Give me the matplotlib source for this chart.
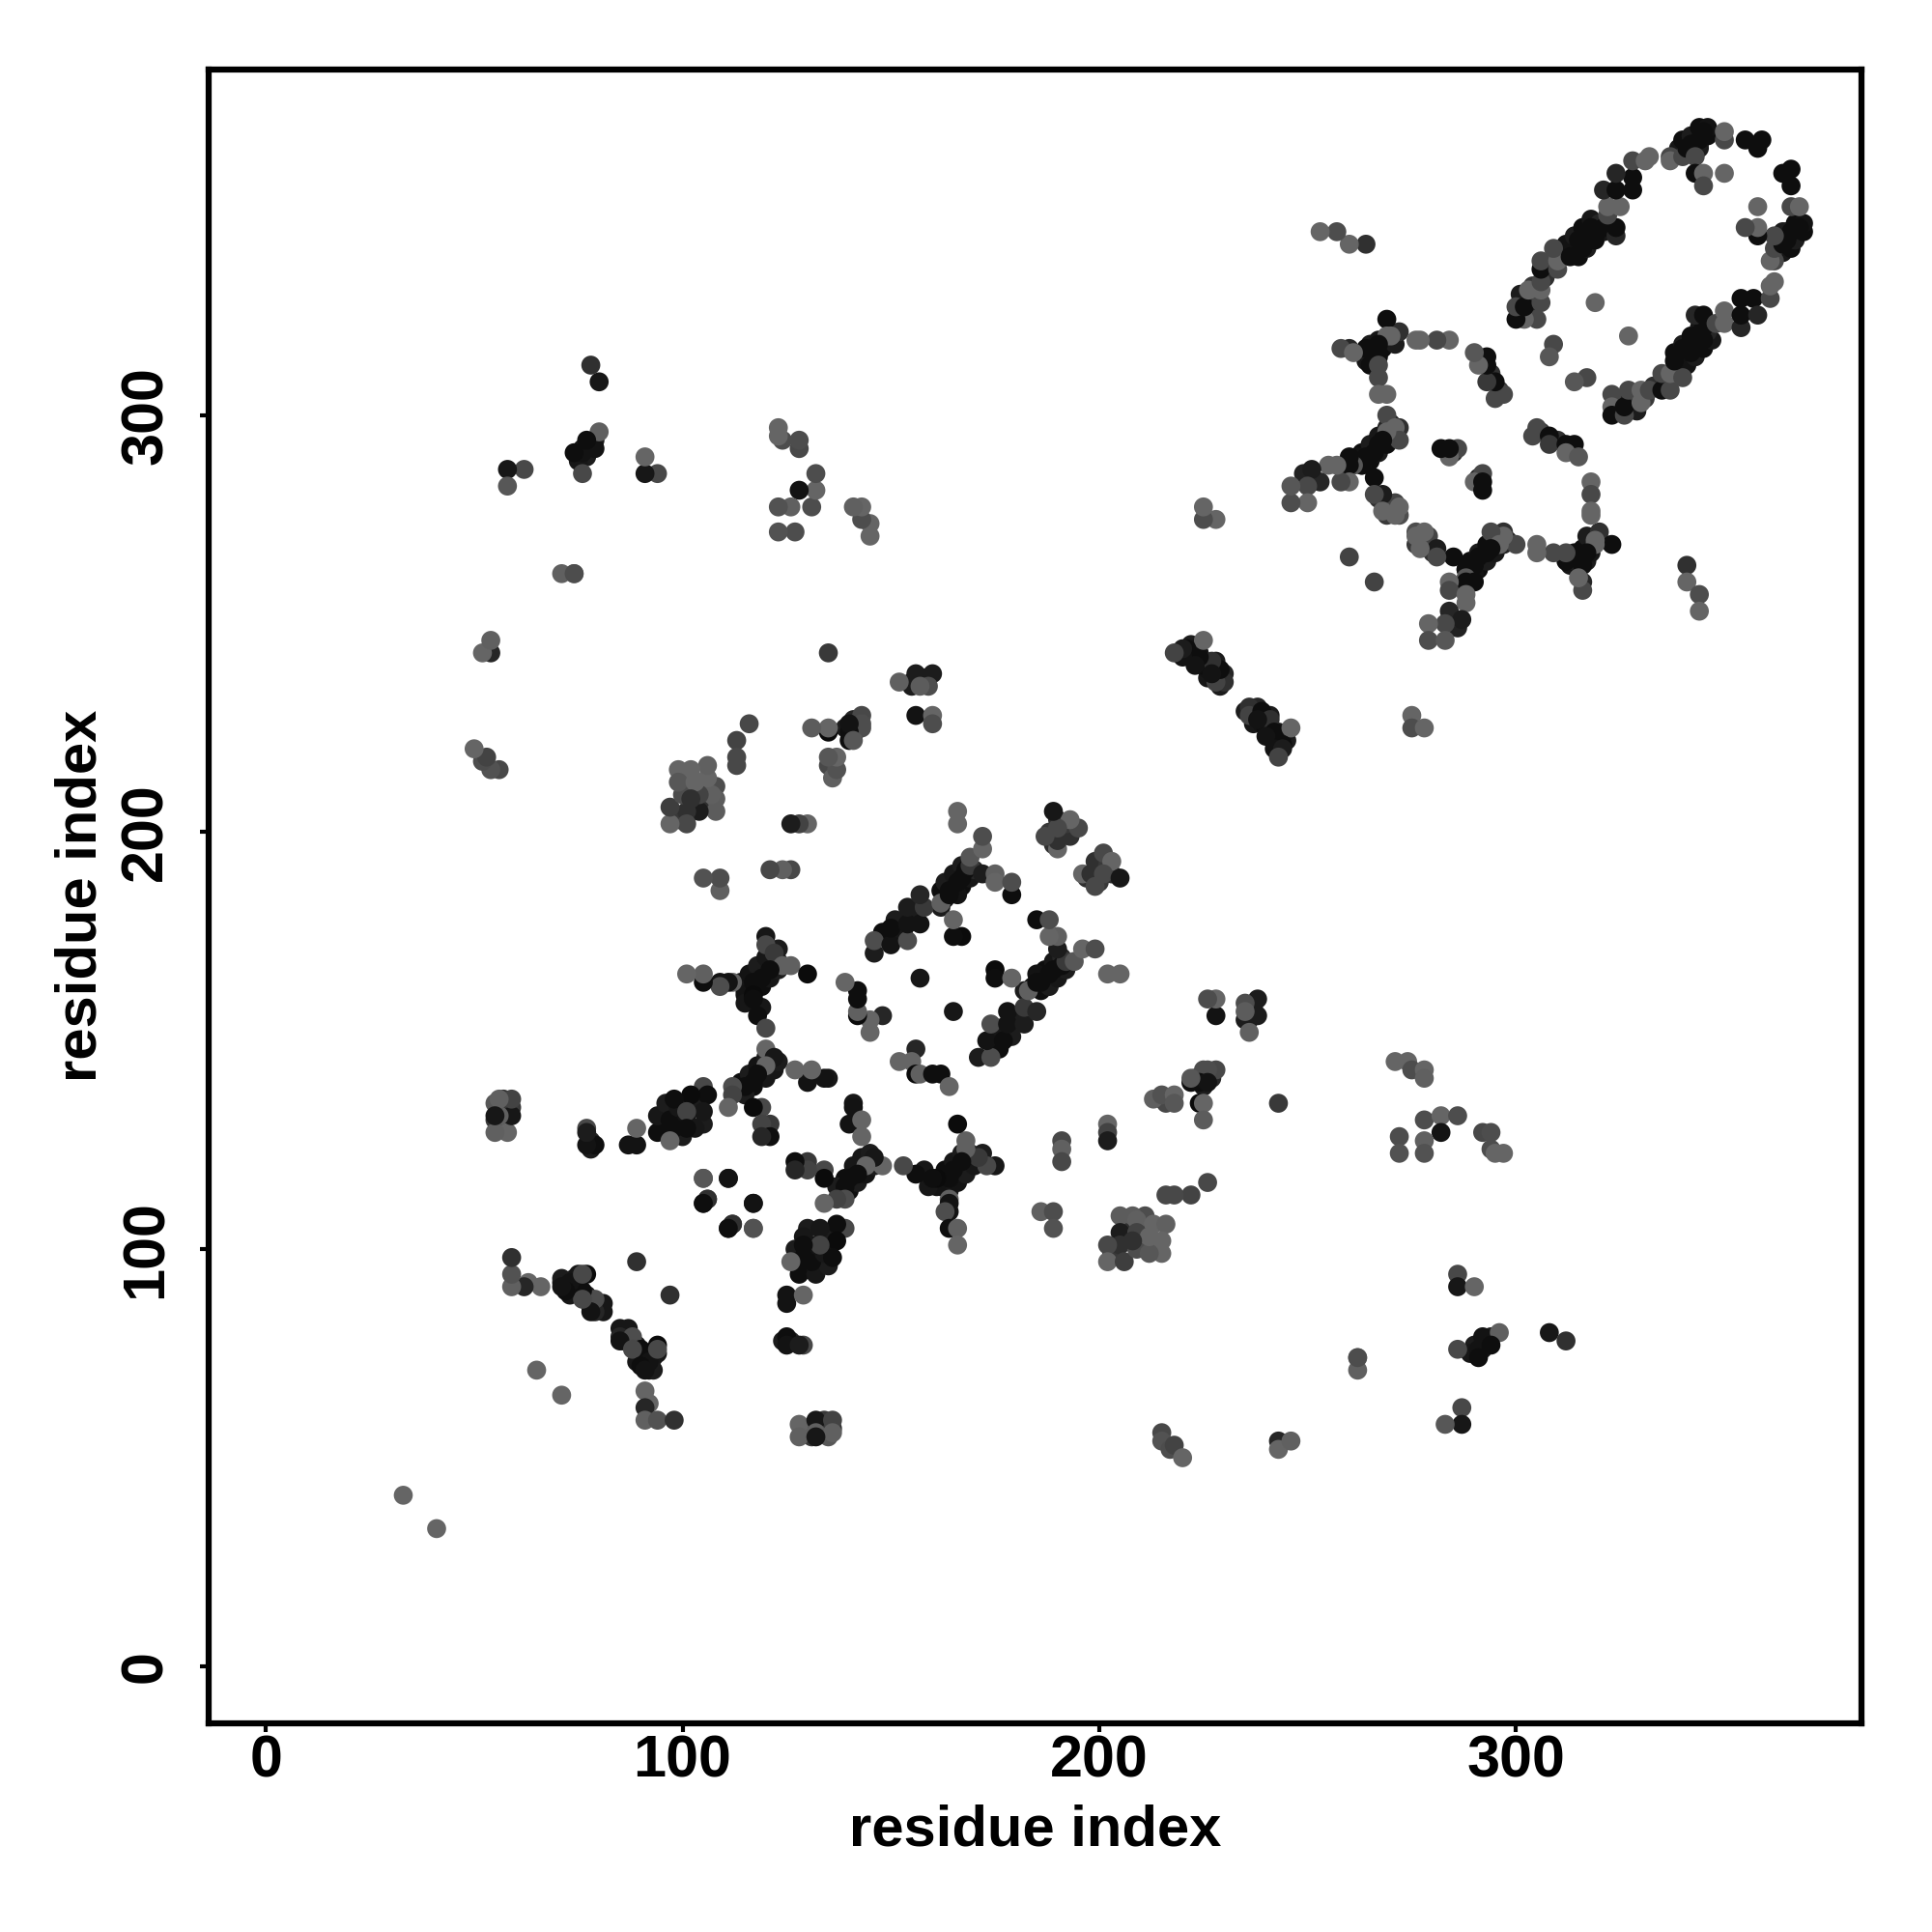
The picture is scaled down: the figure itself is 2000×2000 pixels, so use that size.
"""Residue contact map, drawn from the lower triangle and mirrored."""
import matplotlib
matplotlib.use('Agg')
import matplotlib.pyplot as plt
from matplotlib.colors import LinearSegmentedColormap
import numpy as np

# residue i > residue j, one list per region; conf is a 0-1 confidence
loop_i = [323, 323, 323, 326, 326, 327, 330, 330, 332, 335, 337, 335, 337, 340, 338, 340, 342, 343, 345, 343, 345,
          343, 345, 348, 350, 350, 354, 354, 354, 357, 358, 361, 361, 362, 362, 361, 362, 364, 365, 366, 368, 362,
          358, 358, 355, 358, 366, 368, 366, 364, 366, 327, 317, 314]
loop_j = [305, 302, 300, 300, 302, 306, 303, 306, 306, 306, 306, 310, 310, 309, 313, 316, 315, 317, 318, 319, 321,
          324, 324, 322, 322, 325, 321, 324, 328, 328, 324, 328, 331, 332, 337, 337, 340, 341, 342, 344, 345, 343,
          343, 345, 345, 350, 350, 350, 355, 358, 359, 319, 309, 308]
loop_c = [.35, .05, .95, .35, .95, .35, .05, .05, .35, .95, .35, .35, .05, .35, .95, .95, .95, .95, .95, .95, .95,
          .7, .95, .35, .05, .05, .7, .95, .95, .95, .7, .35, .05, .05, .35, .05, .35, .95, .95, .95, .95, .35,
          .95, .05, .35, .05, .35, .05, .95, .95, .95, .05, .35, .2]

star_i = [323, 319, 319, 317, 315, 314, 312, 312, 309, 305, 305, 316, 316, 316, 315, 318, 318, 318, 318,
          305, 304, 308, 308, 312, 314, 312, 315, 292, 290, 292, 292, 300, 297, 295, 294, 296, 294, 293, 291, 290,
          288, 288, 290, 288, 284, 284, 288, 288, 284, 287, 283, 279, 279, 283, 285, 281, 281, 278, 276, 277, 266,
          341, 341, 344, 344, 275, 275, 278]
star_j = [269, 270, 269, 267, 266, 267, 265, 267, 267, 269, 267, 264, 260, 258, 261, 284, 281, 277, 276,
          297, 295, 295, 293, 293, 293, 291, 290, 286, 284, 284, 282, 269, 271, 271, 272, 269, 268, 267, 266, 264,
          263, 261, 260, 260, 260, 258, 257, 255, 253, 251, 250, 250, 246, 246, 266, 268, 266, 272, 271, 268, 260,
          264, 260, 257, 253, 228, 225, 225]
star_c = [.95, .05, .05, .95, .95, .95, .95, .35, .35, .05, .05, .95, .7, .35, .05, .05, .35, .05, .05,
          .35, .35, .95, .5, .95, .95, .05, .2, .35, .05, .95, .95, .35, .05, .05, .35, .05, .95, .95, .95, .95,
          .95, .2, .95, .95, .05, .35, .05, .05, .7, .8, .35, .05, .3, .2, .95, .8, .35, .05, .05, .05, .4,
          .6, .05, .3, .05, .05, .3, .05]

band_i = [236, 236, 239, 241, 238, 242, 246, 240, 244, 242, 244, 243]
band_j = [230, 228, 229, 227, 227, 224, 225, 223, 221, 220, 220, 218]
band_c = [.6, .4, .95, .6, .9, .95, .05, .9, .95, .9, .8, .4]

square_i = [171, 174, 173, 174, 177, 178, 178, 182, 182, 185, 183, 185, 186, 188, 189, 191, 192, 194, 196, 199,
            202, 205, 190, 190, 188, 185, 188, 175, 175, 179, 165,
            201, 203, 196, 198, 199, 201, 205]
square_j = [146, 146, 150, 154, 150, 154, 157, 154, 158, 157, 162, 164, 164, 166, 167, 168, 169, 169, 172, 172,
            166, 166, 172, 175, 175, 179, 179, 167, 165, 165, 157,
            195, 193, 190, 190, 187, 190, 189]
square_c = [.8, .3, .9, .3, .95, .9, .9, .8, .5, .7, .1, .95, .95, .95, .95, .95, .5, .2, .05, .3,
            .05, .05, .8, .1, .05, .95, .3, .98, .95, .05, .85,
            .35, .05, .05, .6, .35, .35, .85]

cross_i = [175, 173, 171, 168, 168, 167, 165, 164, 161, 160, 156, 153, 164, 164, 164, 163, 164, 166, 166, 166,
           156, 152, 155, 156, 157, 160, 162, 164, 148, 146, 144, 142, 140, 139, 139, 137, 134, 139, 137, 137, 136,
           133, 133, 129, 129, 126, 134, 134, 130, 130, 127, 127, 112, 111, 117, 106, 105, 117, 105, 111]
cross_j = [120, 120, 122, 126, 124, 121, 119, 117, 117, 117, 118, 120, 112, 111, 109, 109, 105, 105, 101, 130,
           148, 145, 145, 142, 142, 142, 142, 139, 120, 122, 120, 118, 117, 115, 112, 112, 111, 105, 106, 102, 98,
           105, 101, 101, 98, 97, 119, 117, 121, 119, 121, 119, 106, 105, 105, 112, 111, 111, 117, 117]
cross_c = [.85, .35, .5, .1, .1, .95, .95, .95, .98, .95, .95, .35, .1, .9, .9, .3, .95, .1, .05, .98,
           .7, .05, .05, .98, .1, .95, .95, .05, .05, .85, .05, .95, .95, .95, .3, .4, .05, .35, .95, .98, .95,
           .85, .4, .95, .95, .05, .35, .98, .5, .4, .95, .7, .6, .95, .25, .6, .95, .9, .2, .9]

side_i = [141, 141, 140, 143, 143, 228, 228, 226, 238, 238, 235, 235, 236, 235,
          228, 226, 225, 222, 224, 226, 222, 213, 215, 218, 218, 224, 225, 225, 243,
          202, 202, 202, 191, 191, 191, 226, 222, 218, 216,
          205, 208, 209, 213, 216, 205, 205, 202, 202, 206, 209, 209, 215, 215, 212, 212, 208, 186, 189, 189]
side_j = [135, 134, 130, 131, 127, 156, 160, 160, 160, 156, 159, 155, 152, 157,
          143, 143, 143, 140, 140, 140, 141, 136, 137, 137, 135, 135, 135, 131, 135,
          130, 128, 126, 126, 124, 121, 116, 113, 113, 113,
          108, 108, 107, 106, 106, 104, 101, 101, 97, 97, 104, 100, 102, 99, 99, 103, 102, 109, 109, 105]
side_c = [.85, .9, .9, .05, .05, .9, .05, .3, .8, .8, .3, .8, .1, .15,
          .35, .3, .3, .95, .95, .9, .2, .1, .25, .05, .2, .98, .05, .15, .5,
          .05, .4, .8, .35, .1, .35, .35, .4, .35, .35,
          .15, .15, .1, .05, .1, .8, .6, .35, .05, .45, .4, .3, .05, .05, .2, .05, .6, .1, .3, .25]

low_i = [97, 87, 85, 88, 85, 90, 94, 88, 92, 90, 91, 94, 91, 92, 91, 91, 94, 98, 71, 41,
         125, 125, 129, 125, 125, 129, 128, 128, 128, 132, 132, 136, 135, 136, 132,
         215, 215, 217, 218, 220, 243, 243, 246, 262, 262, 262,
         286, 286, 290, 286, 291, 292, 296, 294, 291, 287, 287, 283, 308, 312]
low_j = [89, 81, 79, 79, 78, 76, 77, 76, 73, 72, 71, 76, 66, 63, 62, 59, 59, 59, 65, 33,
         89, 87, 89, 79, 77, 77, 77, 58, 55, 59, 56, 59, 55, 56, 55,
         56, 54, 52, 53, 50, 54, 52, 54, 74, 71, 74,
         94, 91, 91, 76, 76, 79, 80, 77, 74, 62, 58, 58, 80, 78]
low_c = [.6, .85, .7, .3, .9, .95, .98, .35, .9, .95, .9, .35, .05, .05, .7, .1, .25, .6, .05, .05,
         .9, .9, .05, .95, .9, .35, .8, .05, .1, .85, .1, .4, .2, .1, .85,
         .35, .25, .3, .4, .05, .7, .05, .1, .05, .1, .3,
         .35, .85, .05, .35, .9, .9, .1, .95, .95, .35, .85, .2, .85, .6]

far_i = [292, 294, 294, 295, 297, 278, 282, 286, 282, 278, 278, 272, 272, 271, 274, 275, 278, 278]
far_j = [128, 128, 124, 123, 123, 131, 132, 132, 128, 126, 123, 127, 123, 145, 145, 143, 143, 141]
far_c = [.35, .3, .3, .05, .05, .3, .05, .3, .9, .1, .25, .3, .25, .05, .05, .3, .05, .1]

# the packed contacts along the strands, these sit underneath the rest
dense_i = [339, 341, 343, 345, 347, 338, 340, 342, 344, 346, 364, 366, 367, 369, 363, 365, 367, 369, 364,
           324, 328, 325, 329, 331, 333,
           313, 315, 317, 318, 316, 314, 318, 320, 317, 320,
           289, 291, 293, 295, 297, 289, 291, 293, 295, 297, 298, 288, 287, 290,
           235, 237, 239, 241, 243, 245, 243, 238, 241, 244, 240, 242,
           184, 186, 188, 190, 192, 187, 189, 191, 185, 182, 175, 176, 179, 180, 176,
           162, 164, 166, 168, 170, 163, 165, 167, 161, 169, 159, 158, 172,
           138, 140, 142, 144, 146, 139, 141, 143, 145, 137,
           128, 132, 135, 131, 134, 132, 134, 130, 129, 127,
           85, 86, 89, 91, 93, 89, 92, 94, 93,
           207, 205, 207, 203, 211, 213, 210, 211,
           223, 225, 227, 225, 227, 215, 217, 216,
           237, 236, 236,
           197, 200, 199, 200, 202, 203,
           293, 294, 292, 290, 289,
           130, 133, 134, 131, 136, 134,
           124, 126, 306, 310, 291, 276, 278, 279, 276, 280, 285, 286, 284]
dense_j = [311, 312, 314, 316, 318, 315, 317, 319, 321, 320, 339, 340, 342, 344, 342, 344, 346, 346, 344,
           303, 304, 301, 301, 304, 307,
           264, 264, 265, 267, 268, 265, 270, 270, 271, 272,
           261, 263, 265, 267, 269, 265, 267, 269, 270, 272, 270, 263, 259, 262,
           229, 226, 226, 224, 222, 222, 224, 230, 228, 223, 225, 222,
           163, 162, 163, 165, 167, 167, 169, 170, 166, 162, 151, 148, 151, 155, 153,
           115, 114, 116, 118, 120, 119, 121, 123, 115, 123, 115, 119, 123,
           113, 114, 116, 118, 120, 117, 120, 122, 123, 115,
           94, 94, 96, 97, 99, 101, 103, 105, 103, 100,
           81, 78, 77, 73, 74, 73, 71, 75, 71,
           102, 102, 105, 99, 101, 100, 106, 108,
           141, 141, 142, 139, 141, 136, 136, 135,
           158, 157, 155,
           189, 188, 193, 191, 192, 190,
           78, 79, 76, 77, 75,
           57, 57, 56, 55, 57, 59,
           78, 78, 296, 294, 285, 269, 270, 271, 272, 267, 251, 249, 251]
dense_c = [.85, .9, .8, .95, .85, .95, .8, .95, .85, .7, .85, .95, .8, .95, .7, .85, .95, .9, .8,
           .7, .6, .85, .8, .5, .6,
           .85, .95, .8, .85, .95, .8, .7, .7, .8, .6,
           .85, .95, .8, .85, .7, .95, .8, .95, .85, .6, .7, .85, .7, .9,
           .8, .85, .9, .8, .95, .8, .85, .7, .8, .85, .95, .8,
           .85, .95, .8, .85, .8, .95, .85, .7, .9, .8, .85, .95, .8, .8, .85,
           .95, .85, .9, .8, .85, .95, .85, .8, .9, .8, .85, .85, .8,
           .85, .95, .8, .9, .8, .95, .85, .85, .8, .8,
           .95, .85, .8, .95, .85, .9, .8, .8, .85, .8,
           .85, .95, .8, .95, .85, .85, .95, .85, .8,
           .7, .6, .6, .5, .4, .3, .4, .3,
           .85, .8, .7, .8, .7, .4, .35, .35,
           .8, .7, .7,
           .6, .5, .6, .6, .5, .6,
           .85, .8, .85, .8, .85,
           .6, .6, .6, .5, .6, .5,
           .8, .7, .5, .6, .7, .5, .3, .4, .3, .6, .7, .75, .7]

x_ticks = [0, 100, 200, 300]
y_ticks = [0, 100, 200, 300]
x_label = 'residue index'
y_label = 'residue index'

res_i = np.array(dense_i + loop_i + star_i + band_i + square_i + cross_i + side_i + low_i + far_i)
res_j = np.array(dense_j + loop_j + star_j + band_j + square_j + cross_j + side_j + low_j + far_j)
conf = np.array(dense_c + loop_c + star_c + band_c + square_c + cross_c + side_c + low_c + far_c)

plt.rcParams['font.family'] = ['Liberation Sans', 'DejaVu Sans']
plt.rcParams['font.weight'] = 'bold'

greys = LinearSegmentedColormap.from_list('greys', ['#6a6a6a', '#090909'])

fig = plt.figure(figsize=(20, 20), dpi=100)
ax = fig.add_axes([216 / 2000, 1 - 1784 / 2000, (1927 - 216) / 2000, (1784 - 71.5) / 2000])

# the map is symmetric, so each contact goes in twice
ax.scatter(res_j, res_i, c=conf, cmap=greys, vmin=0, vmax=1, s=200, linewidths=0)
ax.scatter(res_i, res_j, c=conf, cmap=greys, vmin=0, vmax=1, s=200, linewidths=0)

ax.set_xlim(-13.7, 382.9)
ax.set_ylim(-13.7, 383.0)
ax.set_xticks(x_ticks)
ax.set_yticks(y_ticks)
ax.tick_params(axis='both', length=6.5, width=3, labelsize=44)
ax.tick_params(axis='x', pad=2)
ax.tick_params(axis='y', pad=19)
plt.setp(ax.get_yticklabels(), rotation=90, va='center')
for spine in ax.spines.values():
    spine.set_linewidth(4.5)

ax.set_xlabel(x_label, fontsize=43, fontweight='bold', labelpad=10.5)
ax.set_ylabel(y_label, fontsize=43, fontweight='bold', labelpad=9)

fig.savefig('out.png', dpi=100, facecolor='white')
